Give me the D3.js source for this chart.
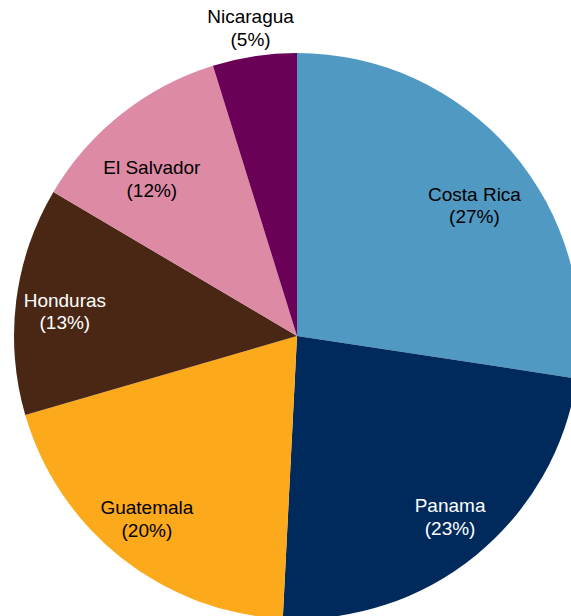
<!DOCTYPE html>
<html>
<head>
<meta charset="utf-8">
<script src="https://cdn.jsdelivr.net/npm/d3@7"></script>
<style>
  body { margin: 0; background: #fff; }
  svg { display: block; }
</style>
</head>
<body>
<svg width="571" height="616"></svg>
<script>
// Slice data, clockwise from 12 o'clock
const countries = ["Costa Rica", "Panama", "Guatemala", "Honduras", "El Salvador", "Nicaragua"];
const shares = [27.4, 23.4, 19.7, 13.0, 11.7, 4.8];
const colors = ["#4f99c2", "#002a5c", "#fcaa1b", "#4a2714", "#dd8aa5", "#6b0057"];
const textColors = ["#000", "#fff", "#000", "#fff", "#000", "#000"];

const svg = d3.select("svg");
const cx = 297, cy = 336;
const radius = 283;

const data = countries.map((c, i) => ({name: c, value: shares[i], color: colors[i], text: textColors[i]}));

const pie = d3.pie().value(d => d.value).sort(null);
const arc = d3.arc().innerRadius(0).outerRadius(radius);

const g = svg.append("g")
    .attr("transform", `translate(${cx},${cy})`);

const arcs = pie(data);

g.selectAll("path")
  .data(arcs)
  .enter().append("path")
    .attr("d", arc)
    .attr("fill", d => d.data.color);

// label anchor: inside labels sit a bit lower in the top half, small slice goes outside
function labelPos(d) {
  const a = (d.startAngle + d.endAngle) / 2;
  if (d.data.name === "Nicaragua") {
    return [309 * Math.sin(a), -309 * Math.cos(a) - 3];
  }
  const top = Math.cos(a) > 0;
  const r = top ? 234 : 242;
  return [r * Math.sin(a), -r * Math.cos(a) * (top ? 0.86 : 0.96)];
}

const labels = g.selectAll("text")
  .data(arcs)
  .enter().append("text")
    .attr("text-anchor", "middle")
    .attr("font-family", "Liberation Sans, Arial, sans-serif")
    .attr("font-size", "19px")
    .attr("fill", d => d.data.text)
    .attr("transform", d => {
      const p = labelPos(d);
      return `translate(${p[0]},${p[1]})`;
    });

labels.append("tspan")
    .attr("x", 0)
    .attr("dy", "-0.22em")
    .text(d => d.data.name);

labels.append("tspan")
    .attr("x", 0)
    .attr("dy", "1.2em")
    .text(d => `(${Math.round(d.data.value)}%)`);
</script>
</body>
</html>
